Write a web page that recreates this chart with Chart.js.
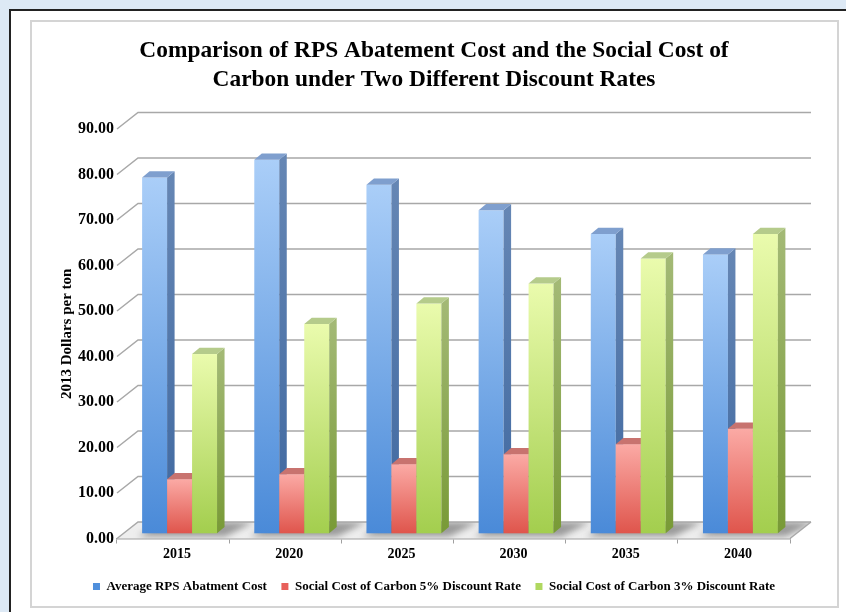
<!DOCTYPE html>
<html lang="en">
<head>
<meta charset="UTF-8">
<title>RPS Abatement Cost vs Social Cost of Carbon</title>
<script src="https://cdn.jsdelivr.net/npm/chart.js@4.4.1/dist/chart.umd.min.js"></script>
<style>
  html, body { margin: 0; padding: 0; }
  body { width: 846px; height: 612px; background: #dde9f5; position: relative; overflow: hidden; }
  .sheet { position: absolute; left: 9px; top: 9px; right: 0; bottom: 0; background: #fff; border-top: 2px solid #222; border-left: 2px solid #222; }
  .frame { position: absolute; left: 30px; top: 20px; width: 805px; height: 584px; border: 2px solid #d4d4d4; }
  .chart-box { position: absolute; left: 0; top: 0; width: 846px; height: 612px; }
</style>
</head>
<body>
<div class="sheet"></div>
<div class="frame"></div>
<div class="chart-box"><canvas id="costChart" width="846" height="612"></canvas></div>

<script>
// --- data ---
const years = ['2015', '2020', '2025', '2030', '2035', '2040'];
const rpsCost = [78.2, 82.1, 76.6, 71.0, 65.8, 61.3];
const scc5pct = [11.9, 13.0, 15.2, 17.4, 19.6, 23.0];
const scc3pct = [39.4, 46.0, 50.5, 54.9, 60.4, 65.8];
const seriesNames = [
  'Average RPS Abatment Cost',
  'Social Cost of Carbon 5% Discount Rate',
  'Social Cost of Carbon 3% Discount Rate'
];
const yMin = 0, yMax = 90, yStep = 10;
const titleLines = [
  'Comparison of RPS Abatement Cost and the Social Cost of',
  'Carbon under Two Different Discount Rates'
];
const yTitle = '2013 Dollars per ton';

const serif = "'Liberation Serif', 'Times New Roman', serif";

// 3D look: wall depth and where the bars sit inside it
const WALL_DX = 21, WALL_DY = -16.5;
const BAR_DX = 6.5, BAR_DY = -5.2;
const SIDE_DX = 7.5, SIDE_DY = -6.2;

// face colours per series: front gradient (top, bottom), side gradient, top face
const faces = [
  { front: ['#aacef8', '#4a8ad8'], side: ['#6586b4', '#3f68a0'], top: '#7f9fce', legend: '#4f8fdc' },
  { front: ['#fbaaa5', '#df554c'], side: ['#c06a66', '#a84840'], top: '#c8736f', legend: '#e8605a' },
  { front: ['#eafbad', '#a3ce4e'], side: ['#a3b975', '#789a36'], top: '#b5cb8b', legend: '#b0d860' }
];

const wall3d = {
  id: 'wall3d',
  beforeDatasetsDraw(chart) {
    const { ctx, chartArea: a, scales } = chart;
    const y = scales.y;
    const L = a.left, R = a.right, B = a.bottom;
    ctx.save();

    // floor
    ctx.beginPath();
    ctx.moveTo(L, B);
    ctx.lineTo(L + WALL_DX, B + WALL_DY);
    ctx.lineTo(R + WALL_DX, B + WALL_DY);
    ctx.lineTo(R, B);
    ctx.closePath();
    ctx.fillStyle = '#eeeeee';
    ctx.fill();

    // soft shadows cast by each group onto the floor
    ctx.save();
    ctx.clip();
    ctx.filter = 'blur(3px)';
    ctx.fillStyle = 'rgba(110,110,110,0.65)';
    const m0 = chart.getDatasetMeta(0), m2 = chart.getDatasetMeta(2);
    years.forEach((_, i) => {
      const gl = m0.data[i].x - m0.data[i].width / 2 + BAR_DX;
      const gr = m2.data[i].x + m2.data[i].width / 2 + BAR_DX;
      ctx.beginPath();
      ctx.moveTo(gl - 4, B - 2);
      ctx.lineTo(gl + WALL_DX - 2, B + WALL_DY);
      ctx.lineTo(gr + WALL_DX + 16, B + WALL_DY);
      ctx.lineTo(gr + 8, B - 2);
      ctx.closePath();
      ctx.fill();
    });
    ctx.restore();

    // gridlines on back wall + side wall diagonals
    ctx.strokeStyle = '#a8a8a8';
    ctx.lineWidth = 1.5;
    for (let v = yMin; v <= yMax; v += yStep) {
      const py = y.getPixelForValue(v);
      ctx.beginPath();
      ctx.moveTo(L, py);
      ctx.lineTo(L + WALL_DX, py + WALL_DY);
      ctx.lineTo(R + WALL_DX, py + WALL_DY);
      ctx.stroke();
    }
    // right edge of floor
    ctx.beginPath();
    ctx.moveTo(R, B);
    ctx.lineTo(R + WALL_DX, B + WALL_DY);
    ctx.stroke();
    ctx.restore();
  },
  beforeDatasetDraw() {
    return false; // bars are drawn in 3D below
  },
  afterDatasetsDraw(chart) {
    const ctx = chart.ctx;
    ctx.save();
    years.forEach((_, i) => {
      chart.data.datasets.forEach((ds, d) => {
        const el = chart.getDatasetMeta(d).data[i];
        const f = faces[d];
        const x0 = el.x - el.width / 2 + BAR_DX;
        const x1 = el.x + el.width / 2 + BAR_DX;
        const yt = el.y + BAR_DY;
        const yb = el.base + BAR_DY;

        let g = ctx.createLinearGradient(0, yt, 0, yb);
        g.addColorStop(0, f.front[0]);
        g.addColorStop(1, f.front[1]);
        ctx.fillStyle = g;
        ctx.fillRect(x0, yt, x1 - x0, yb - yt);

        g = ctx.createLinearGradient(0, yt, 0, yb);
        g.addColorStop(0, f.side[0]);
        g.addColorStop(1, f.side[1]);
        ctx.fillStyle = g;
        ctx.beginPath();
        ctx.moveTo(x1, yt);
        ctx.lineTo(x1 + SIDE_DX, yt + SIDE_DY);
        ctx.lineTo(x1 + SIDE_DX, yb + SIDE_DY);
        ctx.lineTo(x1, yb);
        ctx.closePath();
        ctx.fill();

        ctx.fillStyle = f.top;
        ctx.beginPath();
        ctx.moveTo(x0, yt);
        ctx.lineTo(x0 + SIDE_DX, yt + SIDE_DY);
        ctx.lineTo(x1 + SIDE_DX, yt + SIDE_DY);
        ctx.lineTo(x1, yt);
        ctx.closePath();
        ctx.fill();
      });
    });
    ctx.restore();
  }
};

new Chart(document.getElementById('costChart').getContext('2d'), {
  type: 'bar',
  data: {
    labels: years,
    datasets: [rpsCost, scc5pct, scc3pct].map((vals, d) => ({
      label: seriesNames[d],
      data: vals,
      backgroundColor: faces[d].legend,
      borderWidth: 0,
      categoryPercentage: 0.668,
      barPercentage: 1
    }))
  },
  options: {
    responsive: false,
    animation: false,
    layout: { padding: { top: 20, left: 40, right: 18, bottom: 9 } },
    scales: {
      x: {
        grid: { display: true, drawOnChartArea: false, drawTicks: true, tickLength: 5, color: '#a0a0a0', offset: true },
        border: { display: true, color: '#a0a0a0', width: 1.5 },
        ticks: { color: '#000', font: { family: serif, size: 14, weight: 'bold' }, padding: 2.6, labelOffset: 4 },
        afterFit(scale) { scale.height = 27; }
      },
      y: {
        min: yMin,
        max: yMax,
        grid: { display: false, drawTicks: false },
        border: { display: false },
        ticks: {
          stepSize: yStep,
          padding: 3,
          color: '#000',
          font: { family: serif, size: 16, weight: 'bold' },
          callback: v => Number(v).toFixed(2)
        },
        title: {
          display: true,
          text: yTitle,
          color: '#000',
          font: { family: serif, size: 15, weight: 'bold' },
          padding: { top: 18, bottom: 0 }
        },
        afterFit(scale) { scale.width = 77; }
      },
      // empty right-hand spacer so title and legend centre like the original
      yr: {
        position: 'right',
        display: true,
        grid: { display: false, drawTicks: false },
        border: { display: false },
        ticks: { display: false },
        afterFit(scale) { scale.width = 38; }
      }
    },
    plugins: {
      title: {
        display: true,
        text: titleLines,
        color: '#000',
        font: { family: serif, size: 23.4, weight: 'bold', lineHeight: 1.24 },
        padding: { top: 16.4, bottom: 34.6 }
      },
      legend: {
        position: 'bottom',
        labels: {
          boxWidth: 7,
          boxHeight: 7,
          padding: 14.5,
          color: '#000',
          font: { family: serif, size: 13, weight: 'bold' }
        }
      },
      tooltip: { enabled: false }
    }
  },
  plugins: [wall3d]
});
</script>
</body>
</html>
